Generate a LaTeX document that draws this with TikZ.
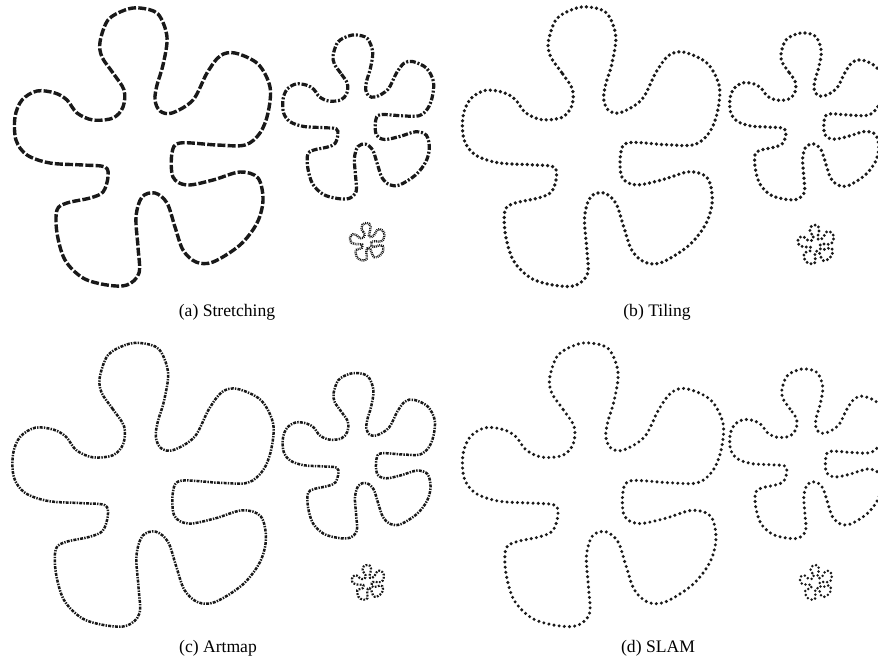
\documentclass[tikz,border=0pt]{standalone}
\usepackage{fontspec}
\setmainfont{Liberation Serif}
\usepackage{tikz}
\definecolor{inkGray}{RGB}{25,25,25}

% one flower outline: #1 line style, #2 top-left corner, #3 scale
\newcommand{\flowerat}[3]{%
  \begin{scope}[shift={#2}, scale=#3]
    \draw[#1] plot[smooth cycle, tension=0.55] coordinates {
      (109,82) (98,65) (87,49) (85,34) (93,12) (110,2) (125,0) (143,6)
      (152,29) (148,57) (142,77) (140,92) (145,103) (157,105) (178,92)
      (192,65) (205,48) (220,45) (243,56) (255,79) (253,105) (245,125)
      (230,137) (202,137) (165,135) (157,145) (158,169) (172,177)
      (198,172) (225,164) (243,170) (248,192) (242,215) (225,237)
      (198,254) (181,254) (168,242) (160,219) (152,195) (140,185)
      (127,189) (121,209) (123,239) (124,265) (112,277) (92,277)
      (68,270) (50,252) (42,225) (42,202) (52,195) (75,190) (88,184)
      (93,169) (90,159) (68,157) (35,155) (12,147) (1,132) (0,109)
      (7,92) (22,83) (40,85) (52,92) (62,105) (78,112) (98,110) (108,99)};
  \end{scope}}

\begin{document}
\begin{tikzpicture}[x=0.5pt, y=-0.5pt,
    stretchbig/.style={inkGray, line width=1.7pt, dash pattern=on 4pt off 1.1pt},
    stretchmid/.style={inkGray, line width=1.6pt, dash pattern=on 3pt off 0.9pt on 1pt off 0.9pt},
    stretchsmall/.style={inkGray, line width=1.2pt, dash pattern=on 0.45pt off 0.45pt},
    tilebig/.style={inkGray, line width=1.85pt, line cap=round, dash pattern=on 0pt off 2.55pt},
    tilesmall/.style={inkGray, line width=1.6pt, line cap=round, dash pattern=on 0pt off 2.1pt},
    artbig/.style={inkGray, line width=1.25pt, dash pattern=on 1.5pt off 0.6pt on 0.7pt off 0.6pt},
    artsmall/.style={inkGray, line width=1.1pt, dash pattern=on 0.9pt off 0.7pt},
    slambig/.style={inkGray, line width=1.7pt, line cap=round, dash pattern=on 0pt off 2.6pt},
    slamsmall/.style={inkGray, line width=1.4pt, line cap=round, dash pattern=on 0pt off 2pt},
    subcap/.style={anchor=base, inner sep=0pt, font=\fontsize{8.8}{10}\selectfont}]
  \clip (0,0) rectangle (878,660);

  % (a) Stretching
  \flowerat{stretchbig}{(15,8)}{1}
  \flowerat{stretchmid}{(283,35)}{0.59}
  \flowerat{stretchsmall}{(350,223)}{0.135}
  \node[subcap] (capA) at (227,316.5) {(a) Stretching};

  % (b) Tiling
  \flowerat{tilebig}{(463,7)}{1.005}
  \flowerat{tilebig}{(730,33)}{0.6}
  \flowerat{tilesmall}{(798,225)}{0.14}
  \node[subcap] (capB) at (657,316.5) {(b) Tiling};

  % (c) Artmap
  \flowerat{artbig}{(13,343)}{1.02}
  \flowerat{artbig}{(283,373)}{0.595}
  \flowerat{artsmall}{(352,565)}{0.125}
  \node[subcap] (capC) at (218,652) {(c) Artmap};

  % (d) SLAM
  \flowerat{slambig}{(463,343)}{1.02}
  \flowerat{slambig}{(730,369)}{0.61}
  \flowerat{slamsmall}{(800,565)}{0.125}
  \node[subcap] (capD) at (658,652) {(d) SLAM};
\end{tikzpicture}
\end{document}
